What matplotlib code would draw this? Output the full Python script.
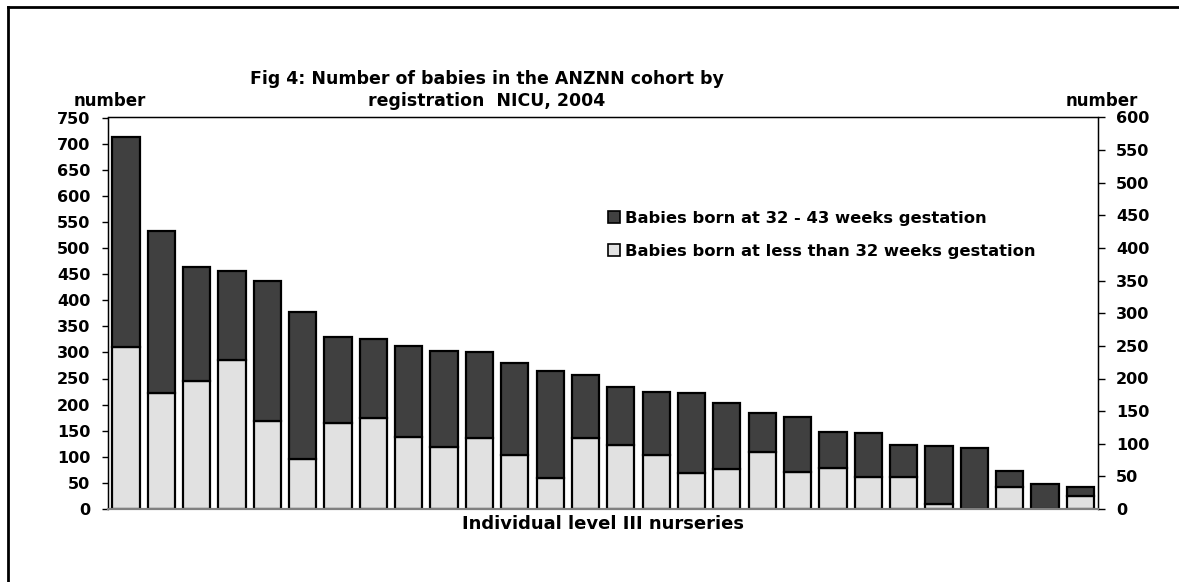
import matplotlib.pyplot as plt
from matplotlib.patches import Patch
from matplotlib.lines import Line2D
import numpy as np

plt.rcParams['font.family'] = ['DejaVu Sans']
plt.rcParams['font.weight'] = 'bold'

# babies per registration NICU, 2004
under_32 = [311, 223, 245, 286, 168, 96, 165, 175, 138, 119, 136, 104, 60, 136,
            122, 104, 69, 76, 110, 71, 78, 62, 62, 10, 0, 42, 0, 24]
weeks_32_43 = [401, 309, 219, 170, 269, 281, 164, 151, 175, 184, 165, 176, 204, 120,
               112, 121, 154, 128, 74, 105, 70, 83, 60, 111, 116, 31, 48, 19]
left_ticks = list(range(0, 751, 50))
right_ticks = list(range(0, 601, 50))

light = '#e1e1e1'
dark = '#404040'

fig = plt.figure(figsize=(11.79, 5.82), dpi=100)
ax = fig.add_axes([108.3 / 1179, 73 / 582, 989.7 / 1179, 391.5 / 582])

x = np.arange(len(under_32))
ax.bar(x, under_32, width=0.77, color=light, edgecolor='black', linewidth=1.6, zorder=2)
ax.bar(x, weeks_32_43, bottom=under_32, width=0.77, color=dark, edgecolor='black',
       linewidth=1.6, zorder=2)

ax.set_xlim(-0.5, len(x) - 0.5)
ax.set_ylim(0, 750)
ax.set_yticks(left_ticks)
ax.set_xticks([])
ax.tick_params(axis='y', direction='out', length=4, width=1, pad=9, labelsize=11.5)
for lab in ax.get_yticklabels():
    lab.set_fontweight('bold')
ax.spines['bottom'].set_color('#808080')
ax.spines['bottom'].set_linewidth(1.5)
for s in ['left', 'right', 'top']:
    ax.spines[s].set_linewidth(1)

ax2 = ax.twinx()
ax2.set_ylim(0, 600)
ax2.set_yticks(right_ticks)
ax2.tick_params(axis='y', direction='out', length=5, width=1, pad=8, labelsize=11.5)
for lab in ax2.get_yticklabels():
    lab.set_fontweight('bold')
ax2.spines['bottom'].set_color('#808080')
ax2.spines['bottom'].set_linewidth(1.5)

fig.text(487 / 1179, 1 - 79 / 582, 'Fig 4: Number of babies in the ANZNN cohort by',
         ha='center', va='center', fontsize=12.5, fontweight='bold')
fig.text(487 / 1179, 1 - 101 / 582, 'registration  NICU, 2004',
         ha='center', va='center', fontsize=12.5, fontweight='bold')
fig.text(110 / 1179, 1 - 101 / 582, 'number', ha='center', va='center',
         fontsize=12, fontweight='bold')
fig.text(1102 / 1179, 1 - 101 / 582, 'number', ha='center', va='center',
         fontsize=12, fontweight='bold')
fig.text(603 / 1179, 1 - 524 / 582, 'Individual level III nurseries', ha='center',
         va='center', fontsize=13, fontweight='bold')

handles = [Patch(facecolor=dark, edgecolor='black', linewidth=1.2),
           Patch(facecolor=light, edgecolor='black', linewidth=1.2)]
labels = ['Babies born at 32 - 43 weeks gestation',
          'Babies born at less than 32 weeks gestation']
fig.legend(handles, labels, loc='upper left', bbox_to_anchor=(608 / 1179, 1 - 211 / 582),
           frameon=False, handlelength=0.75, handleheight=0.75, handletextpad=0.3,
           labelspacing=1.1, borderaxespad=0, borderpad=0,
           prop={'size': 11.8, 'weight': 'bold'})

# outer frame (only top and left edges are visible in the crop)
fig.add_artist(Line2D([8 / 1179, 1], [1 - 7 / 582] * 2, color='black', linewidth=2,
                      transform=fig.transFigure))
fig.add_artist(Line2D([8 / 1179] * 2, [0, 1 - 7 / 582], color='black', linewidth=2,
                      transform=fig.transFigure))

fig.savefig('out.png', dpi=100)
